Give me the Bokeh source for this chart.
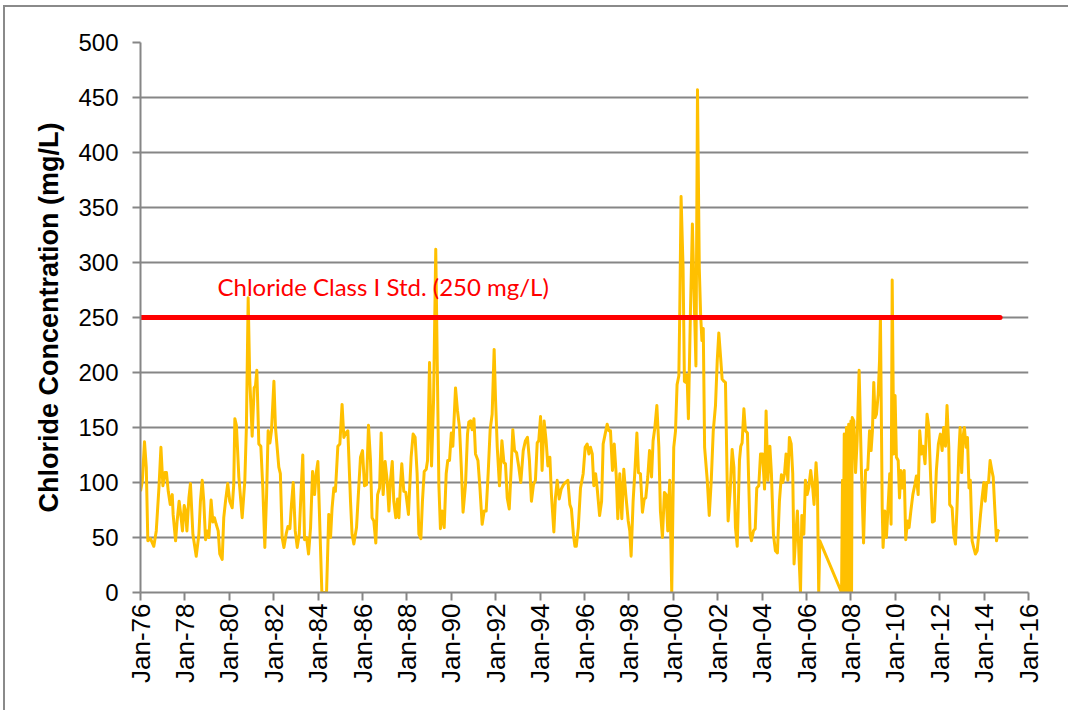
from bokeh.plotting import figure
from bokeh.models import Range1d, FixedTicker, Label
from bokeh.embed import file_html
from bokeh.resources import INLINE
from math import pi

# ---- data (decimal year, chloride mg/L) ----
years = [
    1976.00, 1976.08, 1976.18, 1976.26, 1976.33, 1976.45, 1976.60, 1976.71, 1976.83, 1976.92,
    1977.01, 1977.10, 1977.17, 1977.25, 1977.34, 1977.43, 1977.47, 1977.58, 1977.65, 1977.74,
    1977.83, 1977.89, 1977.97, 1978.03, 1978.09, 1978.18, 1978.25, 1978.36, 1978.51, 1978.63,
    1978.70, 1978.78, 1978.85, 1978.93, 1979.00, 1979.08, 1979.18, 1979.26, 1979.33, 1979.41,
    1979.50, 1979.57, 1979.68, 1979.75, 1979.83, 1979.93, 1980.02, 1980.13, 1980.20, 1980.25,
    1980.32, 1980.43, 1980.58, 1980.70, 1980.77, 1980.85, 1980.92, 1981.03, 1981.12, 1981.18,
    1981.24, 1981.33, 1981.42, 1981.51, 1981.60, 1981.68, 1981.75, 1981.83, 1981.90, 1982.01,
    1982.08, 1982.23, 1982.30, 1982.38, 1982.46, 1982.56, 1982.64, 1982.73, 1982.80, 1982.88,
    1982.97, 1983.06, 1983.15, 1983.24, 1983.31, 1983.39, 1983.48, 1983.57, 1983.66, 1983.75,
    1983.84, 1983.91, 1983.99, 1984.08, 1984.17, 1984.38, 1984.48, 1984.56, 1984.63, 1984.71,
    1984.78, 1984.89, 1984.98, 1985.08, 1985.16, 1985.25, 1985.34, 1985.46, 1985.53, 1985.61,
    1985.73, 1985.83, 1985.91, 1986.00, 1986.09, 1986.18, 1986.27, 1986.36, 1986.43, 1986.51,
    1986.60, 1986.68, 1986.77, 1986.84, 1986.93, 1987.02, 1987.11, 1987.19, 1987.26, 1987.34,
    1987.41, 1987.50, 1987.58, 1987.64, 1987.70, 1987.77, 1987.86, 1987.95, 1988.07, 1988.19,
    1988.28, 1988.37, 1988.46, 1988.54, 1988.63, 1988.70, 1988.78, 1988.87, 1988.93, 1989.02,
    1989.11, 1989.20, 1989.30, 1989.38, 1989.44, 1989.51, 1989.59, 1989.68, 1989.77, 1989.84,
    1989.92, 1990.00, 1990.07, 1990.19, 1990.28, 1990.37, 1990.45, 1990.53, 1990.64, 1990.73,
    1990.79, 1990.87, 1990.94, 1991.02, 1991.09, 1991.20, 1991.29, 1991.39, 1991.48, 1991.57,
    1991.66, 1991.75, 1991.84, 1991.93, 1991.99, 1992.07, 1992.17, 1992.28, 1992.37, 1992.44,
    1992.52, 1992.61, 1992.70, 1992.77, 1992.85, 1992.94, 1993.04, 1993.13, 1993.24, 1993.34,
    1993.43, 1993.52, 1993.61, 1993.70, 1993.79, 1993.87, 1993.94, 1994.02, 1994.09, 1994.18,
    1994.27, 1994.35, 1994.44, 1994.51, 1994.62, 1994.69, 1994.77, 1994.86, 1994.95, 1995.05,
    1995.14, 1995.25, 1995.34, 1995.41, 1995.50, 1995.57, 1995.63, 1995.72, 1995.82, 1995.94,
    1996.03, 1996.12, 1996.20, 1996.27, 1996.35, 1996.42, 1996.50, 1996.57, 1996.68, 1996.77,
    1996.84, 1996.93, 1997.02, 1997.10, 1997.17, 1997.26, 1997.34, 1997.43, 1997.50, 1997.59,
    1997.68, 1997.77, 1997.86, 1997.97, 1998.04, 1998.10, 1998.19, 1998.28, 1998.36, 1998.43,
    1998.52, 1998.61, 1998.69, 1998.76, 1998.85, 1998.93, 1999.02, 1999.09, 1999.17, 1999.26,
    1999.35, 1999.42, 1999.51, 1999.60, 1999.68, 1999.75, 1999.84, 1999.93, 2000.02, 2000.10,
    2000.17, 2000.25, 2000.29, 2000.35, 2000.44, 2000.50, 2000.56, 2000.62, 2000.68, 2000.77,
    2000.86, 2000.96, 2001.02, 2001.09, 2001.17, 2001.23, 2001.29, 2001.35, 2001.41, 2001.53,
    2001.62, 2001.71, 2001.80, 2001.90, 2001.98, 2002.05, 2002.13, 2002.20, 2002.28, 2002.35,
    2002.43, 2002.47, 2002.56, 2002.65, 2002.73, 2002.80, 2002.88, 2002.98, 2003.04, 2003.10,
    2003.18, 2003.25, 2003.34, 2003.40, 2003.46, 2003.52, 2003.61, 2003.69, 2003.76, 2003.85,
    2003.93, 2004.02, 2004.11, 2004.18, 2004.26, 2004.35, 2004.42, 2004.51, 2004.60, 2004.69,
    2004.78, 2004.87, 2004.93, 2005.01, 2005.08, 2005.16, 2005.23, 2005.31, 2005.38, 2005.44,
    2005.52, 2005.59, 2005.67, 2005.73, 2005.79, 2005.88, 2005.95, 2006.03, 2006.10, 2006.19,
    2006.28, 2006.34, 2006.43, 2006.49, 2006.55, 2006.60, 2007.58, 2007.62, 2007.65, 2007.70,
    2007.73, 2007.80, 2007.83, 2007.90, 2007.93, 2008.00, 2008.03, 2008.06, 2008.13, 2008.21,
    2008.28, 2008.37, 2008.47, 2008.57, 2008.66, 2008.76, 2008.84, 2008.91, 2008.97, 2009.03,
    2009.09, 2009.15, 2009.23, 2009.29, 2009.33, 2009.41, 2009.45, 2009.53, 2009.60, 2009.68,
    2009.75, 2009.81, 2009.86, 2009.93, 2009.99, 2010.05, 2010.13, 2010.19, 2010.25, 2010.32,
    2010.40, 2010.47, 2010.55, 2010.62, 2010.70, 2010.79, 2010.88, 2010.95, 2011.03, 2011.10,
    2011.18, 2011.25, 2011.34, 2011.43, 2011.51, 2011.58, 2011.67, 2011.76, 2011.85, 2011.94,
    2012.03, 2012.11, 2012.18, 2012.26, 2012.33, 2012.41, 2012.45, 2012.56, 2012.63, 2012.71,
    2012.78, 2012.86, 2012.92, 2012.99, 2013.05, 2013.11, 2013.19, 2013.25, 2013.32, 2013.38,
    2013.46, 2013.53, 2013.61, 2013.69, 2013.76, 2013.84, 2013.91, 2013.99, 2014.05, 2014.12,
    2014.20, 2014.27, 2014.35, 2014.41, 2014.48, 2014.56, 2014.63, 2014.68,
]
chloride = [
    92, 101, 137, 114, 47, 49, 42, 56, 95, 132,
    97, 109, 109, 92, 80, 89, 71, 47, 65, 83,
    68, 56, 79, 74, 56, 86, 99, 53, 33, 53,
    83, 102, 83, 48, 56, 50, 84, 64, 68, 62,
    56, 35, 30, 68, 83, 99, 83, 77, 98, 158,
    152, 105, 68, 102, 150, 268, 195, 142, 186, 188,
    202, 135, 133, 95, 41, 89, 147, 136, 147, 192,
    150, 114, 108, 50, 41, 53, 60, 58, 80, 100,
    56, 41, 53, 95, 125, 48, 50, 35, 59, 110,
    89, 108, 119, 59, 0, 0, 71, 50, 77, 95,
    92, 133, 135, 171, 141, 145, 147, 83, 53, 44,
    59, 95, 123, 129, 97, 98, 152, 120, 68, 65,
    45, 89, 95, 145, 89, 119, 102, 74, 102, 119,
    83, 68, 85, 68, 95, 117, 92, 91, 71, 123,
    144, 141, 108, 53, 49, 83, 110, 112, 120, 209,
    115, 174, 312, 189, 98, 58, 74, 59, 108, 120,
    120, 145, 133, 186, 165, 150, 114, 73, 98, 144,
    155, 156, 148, 158, 126, 120, 95, 62, 74, 74,
    108, 148, 162, 221, 177, 132, 97, 138, 118, 117,
    86, 76, 114, 148, 129, 127, 114, 100, 129, 138,
    141, 120, 83, 98, 102, 136, 138, 160, 111, 156,
    138, 115, 123, 89, 55, 86, 102, 85, 94, 98,
    100, 102, 80, 76, 53, 42, 42, 59, 95, 108,
    132, 135, 126, 132, 126, 97, 108, 95, 70, 83,
    135, 144, 153, 147, 147, 111, 135, 106, 67, 108,
    67, 112, 89, 65, 56, 33, 83, 114, 145, 109,
    108, 73, 85, 86, 105, 129, 105, 138, 150, 170,
    132, 74, 50, 91, 89, 56, 102, 0, 132, 147,
    189, 197, 253, 360, 295, 192, 191, 198, 158, 253,
    335, 253, 206, 457, 295, 253, 229, 240, 132, 102,
    70, 102, 147, 170, 211, 236, 214, 194, 192, 191,
    98, 65, 92, 130, 114, 59, 42, 120, 133, 136,
    167, 147, 145, 98, 53, 47, 56, 58, 95, 97,
    126, 126, 94, 165, 102, 133, 108, 53, 38, 36,
    83, 107, 100, 108, 126, 102, 141, 135, 108, 26,
    53, 74, 29, 0, 70, 53, 102, 89, 95, 111,
    95, 80, 118, 98, 0, 47, 0, 102, 0, 144,
    0, 150, 0, 153, 0, 156, 0, 159, 156, 109,
    138, 202, 114, 45, 111, 112, 147, 129, 147, 191,
    159, 162, 180, 211, 250, 77, 41, 74, 50, 80,
    108, 62, 284, 126, 179, 123, 120, 86, 111, 95,
    111, 48, 65, 59, 74, 89, 98, 106, 89, 147,
    126, 133, 117, 162, 150, 111, 64, 65, 111, 135,
    144, 129, 150, 133, 170, 132, 80, 77, 53, 44,
    77, 126, 150, 109, 141, 150, 132, 141, 95, 102,
    47, 41, 35, 38, 53, 71, 86, 100, 83, 100,
    100, 120, 111, 105, 77, 47, 56, 57,
]

std_years = [1976.0, 2014.72]
std_value = [250, 250]
std_label = "Chloride Class I Std. (250 mg/L)"

tick_years = list(range(1976, 2017, 2))
tick_labels = ["Jan-76", "Jan-78", "Jan-80", "Jan-82", "Jan-84", "Jan-86", "Jan-88",
               "Jan-90", "Jan-92", "Jan-94", "Jan-96", "Jan-98", "Jan-00", "Jan-02",
               "Jan-04", "Jan-06", "Jan-08", "Jan-10", "Jan-12", "Jan-14", "Jan-16"]
y_ticks = list(range(0, 501, 50))

GRID = "#868686"
FONT = "Liberation Sans"

p = figure(width=1065, height=705, output_backend="svg", toolbar_location=None,
           x_range=Range1d(1976, 2016), y_range=Range1d(0, 500),
           min_border_left=135, min_border_right=42, min_border_top=35, min_border_bottom=120)
p.styles = {"border-left": "2px solid #8a8a8a", "border-top": "2px solid #8a8a8a",
            "margin-left": "3px", "margin-top": "5px"}
p.outline_line_color = None
p.background_fill_color = "white"
p.border_fill_color = "white"

p.xgrid.visible = False
p.ygrid.grid_line_color = GRID
p.ygrid.grid_line_width = 2
p.ygrid.ticker = FixedTicker(ticks=y_ticks)

p.xaxis.ticker = FixedTicker(ticks=tick_years)
p.xaxis.major_label_overrides = {t: l for t, l in zip(tick_years, tick_labels)}
p.xaxis.major_label_orientation = pi / 2
p.yaxis.ticker = FixedTicker(ticks=y_ticks)

for ax in (p.xaxis, p.yaxis):
    ax.axis_line_color = GRID
    ax.axis_line_width = 2
    ax.major_tick_line_color = GRID
    ax.major_tick_line_width = 2
    ax.major_tick_out = 8
    ax.major_tick_in = 0
    ax.minor_tick_line_color = None
    ax.major_label_text_font = FONT
    ax.major_label_text_color = "black"

p.yaxis.major_label_text_font_size = "24px"
p.xaxis.major_label_text_font_size = "26px"
p.xaxis.major_label_standoff = 3
p.yaxis.major_label_standoff = 14
p.yaxis.axis_label = "Chloride Concentration (mg/L)"
p.yaxis.axis_label_text_font = FONT
p.yaxis.axis_label_text_font_style = "bold"
p.yaxis.axis_label_text_font_size = "27px"
p.yaxis.axis_label_text_color = "black"
p.yaxis.axis_label_standoff = 11

p.line(years, chloride, line_color="#FFC000", line_width=3, line_join="round")
p.line(std_years, std_value, line_color="#FF0000", line_width=5, line_cap="round")

p.add_layout(Label(x=std_years[0] + 3.47, y=std_value[0], y_offset=17, text=std_label,
                   text_color="#FF0000", text_font="Lato", text_font_size="24px",
                   text_baseline="bottom"))

open("out.html", "w").write(file_html(p, INLINE))
